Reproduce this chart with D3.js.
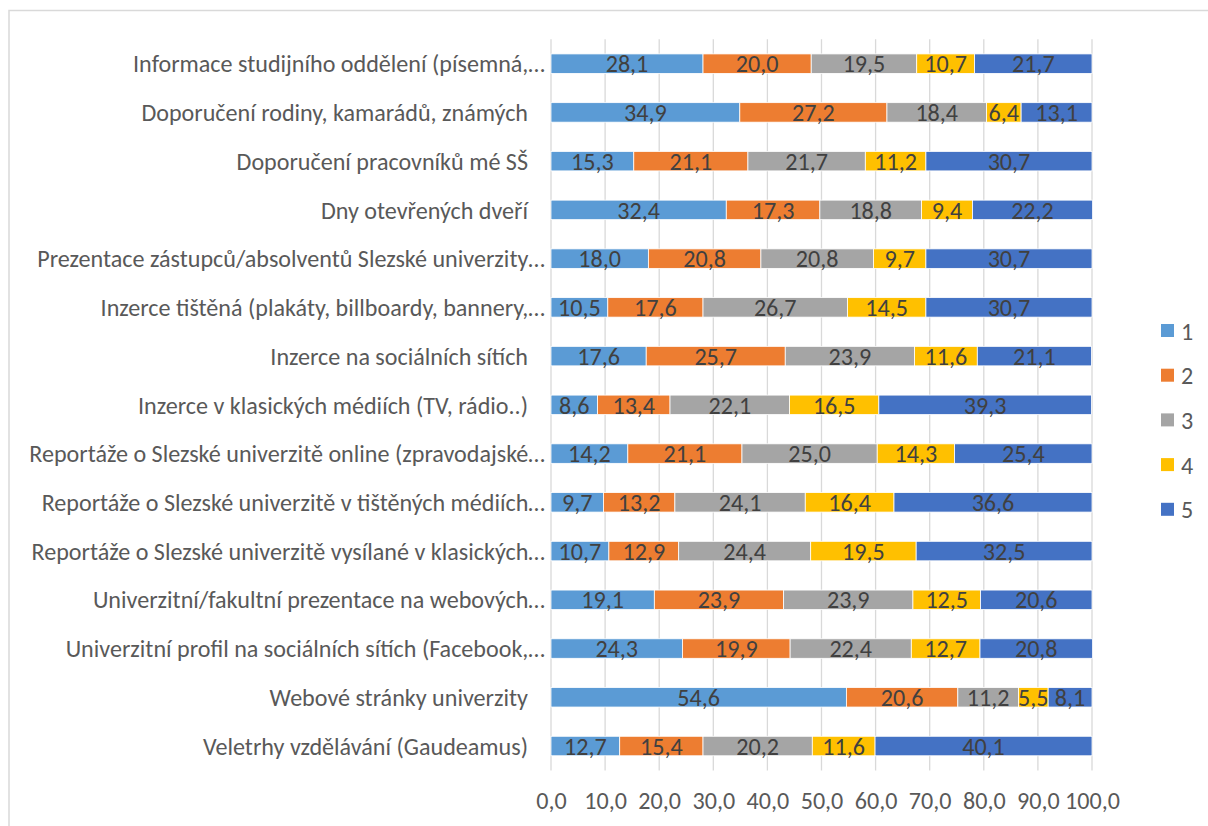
<!DOCTYPE html>
<html><head><meta charset="utf-8">
<script src="https://cdn.jsdelivr.net/npm/d3@7"></script>
<style>
body{margin:0;background:#fff;}
text{font-family:Calibri,Carlito,Lato,"Liberation Sans",sans-serif;}
</style></head>
<body><svg id="c" width="1208" height="826"></svg>
<script>
const categories = [
 "Informace studijního oddělení (písemná,…",
 "Doporučení rodiny, kamarádů, známých",
 "Doporučení pracovníků mé SŠ",
 "Dny otevřených dveří",
 "Prezentace zástupců/absolventů Slezské univerzity…",
 "Inzerce tištěná (plakáty, billboardy, bannery,…",
 "Inzerce na sociálních sítích",
 "Inzerce v klasických médiích (TV, rádio..)",
 "Reportáže o Slezské univerzitě online (zpravodajské…",
 "Reportáže o Slezské univerzitě v tištěných médiích…",
 "Reportáže o Slezské univerzitě vysílané v klasických…",
 "Univerzitní/fakultní prezentace na webových…",
 "Univerzitní profil na sociálních sítích (Facebook,…",
 "Webové stránky univerzity",
 "Veletrhy vzdělávání (Gaudeamus)"
];
const seriesNames = ["1","2","3","4","5"];
const s1 = [28.1,34.9,15.3,32.4,18.0,10.5,17.6,8.6,14.2,9.7,10.7,19.1,24.3,54.6,12.7];
const s2 = [20.0,27.2,21.1,17.3,20.8,17.6,25.7,13.4,21.1,13.2,12.9,23.9,19.9,20.6,15.4];
const s3 = [19.5,18.4,21.7,18.8,20.8,26.7,23.9,22.1,25.0,24.1,24.4,23.9,22.4,11.2,20.2];
const s4 = [10.7,6.4,11.2,9.4,9.7,14.5,11.6,16.5,14.3,16.4,19.5,12.5,12.7,5.5,11.6];
const s5 = [21.7,13.1,30.7,22.2,30.7,30.7,21.1,39.3,25.4,36.6,32.5,20.6,20.8,8.1,40.1];
const tickValues = [0,10,20,30,40,50,60,70,80,90,100];
const colors = ["#5B9BD5","#ED7D31","#A5A5A5","#FFC000","#4472C4"];

const seriesVals = [s1,s2,s3,s4,s5];
const rows = categories.map((c,i)=>{const o={cat:c}; seriesNames.forEach((s,j)=>o[s]=seriesVals[j][i]); return o;});
const stacked = d3.stack().keys(seriesNames)(rows);

const loc = d3.formatLocale({decimal:",",thousands:" ",grouping:[3],currency:["","Kč"]});
const fmt = loc.format(".1f");
const FS = 24.1;
const FF = "Calibri,Carlito,Lato,'Liberation Sans',sans-serif";

const svg = d3.select("#c");
// frame
svg.append("rect").attr("x",9).attr("y",10.5).attr("width",1220).attr("height",830)
  .attr("fill","none").attr("stroke","#d9d9d9").attr("stroke-width",1.5);

const x = d3.scaleLinear().domain([0,100]).range([551,1092]);
const y = d3.scaleBand().domain(categories).range([39.3,770.4]).paddingInner(0.6).paddingOuter(0.3);

// gridlines
svg.append("g").selectAll("line").data(tickValues).join("line")
  .attr("x1",d=>x(d)).attr("x2",d=>x(d)).attr("y1",39.3).attr("y2",770.4)
  .attr("stroke","#d9d9d9").attr("stroke-width",1.3);

// x tick labels
const xAxis = d3.axisBottom(x).tickValues(tickValues).tickFormat(fmt).tickSize(0).tickPadding(0);
const gx = svg.append("g").attr("transform","translate(0,800.5)").call(xAxis);
gx.select(".domain").remove();
gx.selectAll("text").attr("font-size",FS).attr("fill","#595959").attr("dy","0.36em")
  .style("font-family",FF);

// bars
const g = svg.append("g");
stacked.forEach((layer,j)=>{
  const lg = g.append("g");
  lg.selectAll("rect").data(layer).join("rect")
    .attr("x",d=>x(d[0])).attr("width",d=>x(d[1])-x(d[0]))
    .attr("y",d=>y(d.data.cat)).attr("height",y.bandwidth())
    .attr("fill",colors[j]).attr("stroke","#fff").attr("stroke-width",0.8);
  lg.selectAll("text").data(layer).join("text")
    .attr("x",d=>(x(d[0])+x(d[1]))/2).attr("y",d=>y(d.data.cat)+y.bandwidth()/2)
    .attr("dy","0.36em").attr("text-anchor","middle").attr("font-size",FS).attr("fill","#404040")
    .text(d=>fmt(d[1]-d[0]));
});

// category labels
svg.append("g").selectAll("text").data(categories).join("text")
  .attr("x",d=>d.endsWith("…")?545:528).attr("y",d=>y(d)+y.bandwidth()/2).attr("dy","0.36em")
  .attr("text-anchor","end").attr("font-size",FS).attr("fill","#595959").text(d=>d);

// legend
const leg = svg.append("g");
seriesNames.forEach((s,i)=>{
  const yy = 331 + i*44.7;
  leg.append("rect").attr("x",1161).attr("y",yy-7).attr("width",13).attr("height",13).attr("fill",colors[i]);
  leg.append("text").attr("x",1181).attr("y",yy).attr("dy","0.36em").attr("font-size",FS).attr("fill","#595959").text(s);
});
</script></body></html>
